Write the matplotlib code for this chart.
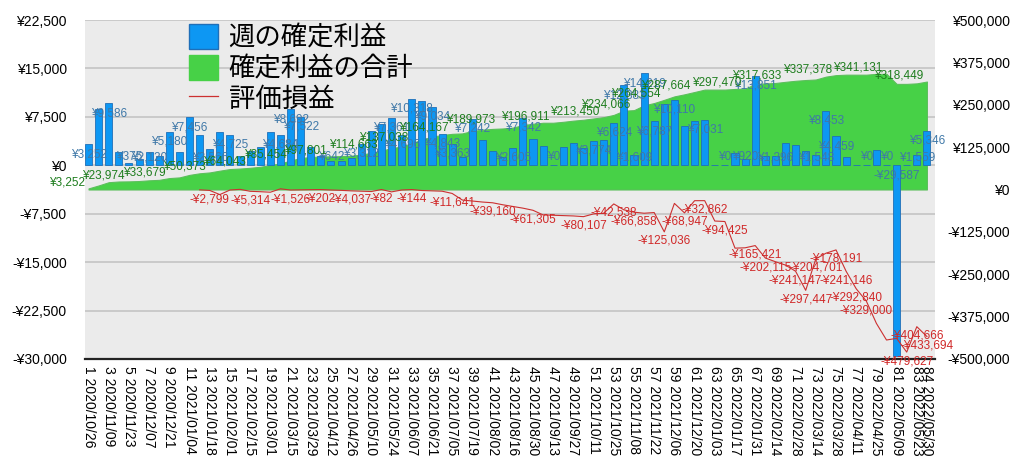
import numpy as np
import pandas as pd
import matplotlib
matplotlib.use("Agg")
import matplotlib.pyplot as plt
from matplotlib.patches import Patch
from matplotlib.lines import Line2D
from matplotlib.ticker import FuncFormatter

plt.rcParams['font.family'] = ['Liberation Sans', 'Noto Sans CJK JP']

# week numbers and dates (weekly, starting 2020/10/26)
weeks = np.arange(1, 85)
dates = pd.date_range("2020-10-26", periods=84, freq="7D")
xlabels = [f"{w} {d:%Y/%m/%d}" for w, d in zip(weeks, dates)]

# weekly realized profit (left axis)
weekly = [3252, 8700, 9586, 2061, 375, 1000, 2120, 1405, 5180, 2000,
          7456, 4672, 2566, 5200, 4725, 1500, 2245, 2900, 5135, 4684,
          8692, 7522, 2800, 1383, 642, 650, 1200, 3312, 5300, 6400,
          7361, 4696, 10318, 9889, 9034, 4843, 3363, 1300, 7242, 3850,
          2200, 1267, 2605, 7342, 4000, 2938, 0, 2770, 3400, 2700,
          3774, 3895, 6624, 12383, 1609, 14219, 6787, 9482, 10110, 6100,
          6900, 7031, 0, 0, 1855, 920, 13851, 1500, 1396, 3416,
          3085, 2200, 1548, 8453, 4459, 1330, 0, 0, 2423, 0,
          -29587, 0, 1559, 5346]
cumulative = np.cumsum(weekly)

# unrealized profit/loss (right axis), from week 12
unreal_weeks = np.arange(12, 85)
unrealized = [-1000, -2799, -15000, -1500, 500, -5314, -6500, -8000, 2000, -1526,
              -1000, -500, -202, -1500, -2500, -4037, -5000, -6000, -82, -7000,
              -1500, -144, -3000, -4000, -5000, -11641, -31000, -34000, -37000, -39160,
              -45000, -50000, -55000, -61305, -75000, -76000, -77000, -78000, -80107, -72000,
              -70000, -42538, -60000, -66858, -70000, -68000, -125036, -41000, -68947, -33000,
              -32862, -93000, -94425, -173000, -172000, -165421, -202115, -213000, -223000, -241147,
              -297447, -204701, -188000, -178191, -241146, -292840, -329000, -395000, -444000, -439000,
              -479627, -404666, -433694]

blue_label_weeks = [1, 3, 5, 7, 9, 11, 13, 15, 20, 21, 22, 25, 28, 31, 32, 33, 35, 36, 37,
                    39, 43, 44, 47, 51, 53, 54, 55, 56, 57, 59, 62, 64, 66, 67, 69, 73,
                    74, 75, 78, 80, 81, 83, 84]
green_label_weeks = [1, 5, 9, 13, 17, 21, 25, 30, 33, 37, 44, 47, 52, 55, 58, 61, 66, 70,
                     75, 80, 84]
red_label_weeks = [13, 17, 21, 24, 27, 30, 33, 37, 41, 45, 50, 53, 55, 58, 60, 62, 64, 67,
                   68, 71, 72, 73, 75, 76, 77, 78, 82, 83, 84]


def yen(v):
    return ("-¥" if v < 0 else "¥") + f"{abs(v):,.0f}"


fig = plt.figure(figsize=(10.24, 4.72), dpi=100)
ax = fig.add_axes([85 / 1024, 1 - 359 / 472, 850 / 1024, 339 / 472])
ax2 = ax.twinx()   # bars, left scale
ax3 = ax.twinx()   # unrealized line, right scale (on top)

ax.set_facecolor("#ebebeb")
ax.set_xlim(0.65, 84.8)
ax.set_ylim(-500000, 500000)

# grid lines at the left axis ticks (drawn behind the area)
left_ticks = np.arange(-30000, 22501, 7500)
for v in left_ticks[1:]:
    ax.axhline(-500000 + (v + 30000) / 52500 * 1000000, color="#c4c4c4", lw=1.2, zorder=0)

ax.fill_between(weeks, 0, cumulative, color="#47d147", lw=0.8, edgecolor="#5cbf5c", zorder=1)

ax.yaxis.tick_right()
ax.set_yticks(np.arange(-500000, 500001, 125000))
ax.yaxis.set_major_formatter(FuncFormatter(lambda v, p: yen(v)))
ax.tick_params(axis="y", length=0, pad=54, labelsize=10)
for t in ax.get_yticklabels():
    t.set_horizontalalignment("right")

ticks = list(range(1, 84, 2)) + [84]
ax.set_xticks(ticks)
ax.set_xticklabels([xlabels[i - 1] for i in ticks], rotation=270, fontsize=10)
ax.tick_params(axis="x", length=0, pad=5)
for s in ["top", "left", "right"]:
    ax.spines[s].set_visible(False)
ax.spines["bottom"].set_color("#222222")
ax.spines["bottom"].set_linewidth(1.6)

# bars on the left scale
ax2.set_ylim(-30000, 22500)
ax2.bar(weeks, weekly, width=0.7, color="#0d97f3", edgecolor="#1f6fb8", lw=0.6)
ax2.yaxis.tick_left()
ax2.set_yticks(left_ticks)
ax2.yaxis.set_major_formatter(FuncFormatter(lambda v, p: yen(v)))
ax2.tick_params(axis="y", length=0, pad=13, labelsize=10)
for s in ax2.spines.values():
    s.set_visible(False)

for w in blue_label_weeks:
    v = weekly[w - 1]
    y = max(v - 1540, 1230) if v >= 0 else -1540
    ax2.text(w, y, yen(v), ha="center", va="center", fontsize=8.5, color="#3f78a8")

# unrealized line on top
ax3.set_ylim(-500000, 500000)
ax3.set_yticks([])
for s in ax3.spines.values():
    s.set_visible(False)
ax3.plot(unreal_weeks, unrealized, color="#cc3030", lw=0.8)

for w in red_label_weeks:
    v = unrealized[w - 12]
    ax3.annotate(yen(v), (w, v), xytext=(0, -3), textcoords="offset pixels",
                 ha="center", va="top", fontsize=8.5, color="#d02828")

green_shift = {44: -24}
for w in green_label_weeks:
    v = cumulative[w - 1]
    ax3.annotate(yen(v), (w, v), xytext=(-4 + green_shift.get(w, 0), 0),
                 textcoords="offset pixels", ha="right", va="bottom",
                 fontsize=8.5, color="#1e7d1e", annotation_clip=False)

handles = [Patch(facecolor="#0d97f3", edgecolor="#1f6fb8"),
           Patch(facecolor="#47d147", edgecolor="#47d147"),
           Line2D([0], [0], color="#cc3030", lw=0.9)]
labels = ["週の確定利益", "確定利益の合計", "評価損益"]
ax3.legend(handles, labels, loc="upper left", bbox_to_anchor=(0.11, 1.02),
           frameon=False, handlelength=1.1, handleheight=1.1,
           labelspacing=0.12, handletextpad=0.4, borderaxespad=0,
           prop={"family": ["Noto Sans CJK JP"], "size": 19})

fig.savefig("out.png", dpi=100)
